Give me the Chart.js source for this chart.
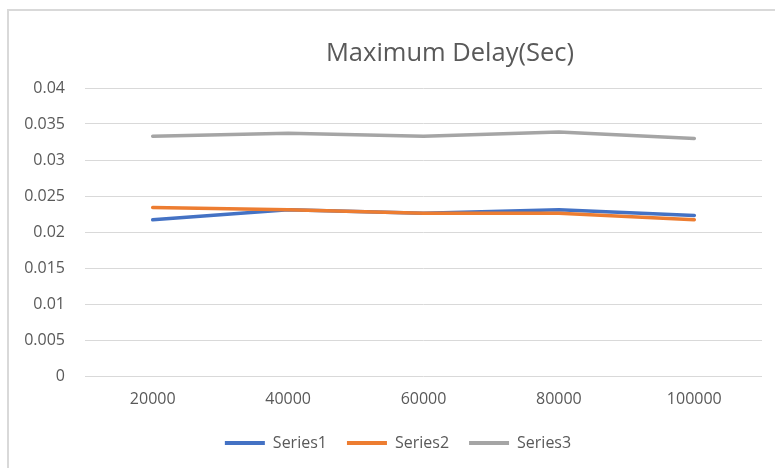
<!DOCTYPE html>
<html>
<head>
<meta charset="utf-8">
<script src="https://cdn.jsdelivr.net/npm/chart.js@4/dist/chart.umd.min.js"></script>
<style>
    body { margin: 0; background: #ffffff; overflow: hidden; }
    #wrap { position: relative; width: 775px; height: 468px; }
    #frame { position: absolute; left: 7px; top: 9px; width: 800px; height: 500px; border-left: 2px solid #d9d9d9; border-top: 2px solid #d9d9d9; }
    #myChart { position: absolute; left: 0; top: 0; }
</style>
</head>
<body>
<div id="wrap">
    <div id="frame"></div>
    <canvas id="myChart" width="775" height="468"></canvas>
</div>
<script>
//CHART DATA
////////////////////////////////////////////////////////////////////
var chartTitle = "Maximum Delay(Sec)";
var categories = ["20000", "40000", "60000", "80000", "100000"];
var seriesNames = ["Series1", "Series2", "Series3"];
var series1 = [0.0217, 0.0231, 0.0226, 0.0231, 0.0223];
var series2 = [0.0234, 0.0231, 0.0226, 0.0226, 0.0217];
var series3 = [0.0333, 0.0337, 0.0333, 0.0339, 0.0330];
var yTickLabels = ["0", "0.005", "0.01", "0.015", "0.02", "0.025", "0.03", "0.035", "0.04"];

var textColor = "#595959";
var fontName = "'Open Sans', sans-serif";

//nudges title and legend sideways after layout (excel centers them off the plot)
var shiftPlugin = {
    id: "shiftBoxes",
    afterLayout: function (chart) {
        if (chart.titleBlock) {
            chart.titleBlock.left += 69;
            chart.titleBlock.right += 69;
        }
        if (chart.legend) {
            chart.legend.left += 17;
            chart.legend.right += 17;
        }
    }
};

function makeSet(label, values, color, order) {
    return {
        label: label,
        data: values,
        borderColor: color,
        backgroundColor: color,
        borderWidth: 3.5,
        borderCapStyle: "round",
        pointRadius: 0,
        tension: 0,
        order: order
    };
}

function displayChart() {
    new Chart(document.getElementById("myChart"), {
        type: "line",
        data: {
            labels: categories,
            datasets: [
                makeSet(seriesNames[0], series1, "#4472C4", 3),
                makeSet(seriesNames[1], series2, "#ED7D31", 2),
                makeSet(seriesNames[2], series3, "#A5A5A5", 1)
            ]
        },
        options: {
            responsive: false,
            animation: false,
            layout: {
                padding: { left: 0, right: 13, top: 0, bottom: 7 }
            },
            scales: {
                x: {
                    offset: true,
                    grid: { display: false, drawTicks: false },
                    border: { display: false },
                    ticks: {
                        color: textColor,
                        padding: 14,
                        maxRotation: 0,
                        font: { family: fontName, size: 16 }
                    },
                    afterFit: function (scale) { scale.height = 39; }
                },
                y: {
                    min: 0,
                    max: 0.04,
                    grid: { color: "#d9d9d9", lineWidth: 1, drawTicks: false },
                    border: { display: false },
                    ticks: {
                        stepSize: 0.005,
                        color: textColor,
                        padding: 20,
                        font: { family: fontName, size: 16 },
                        callback: function (value, index) { return yTickLabels[index]; }
                    },
                    afterFit: function (scale) { scale.width = 85; }
                }
            },
            plugins: {
                title: {
                    display: true,
                    text: chartTitle,
                    color: textColor,
                    font: { family: fontName, size: 25.5, weight: "normal" },
                    padding: { top: 38.7, bottom: 18.7 }
                },
                legend: {
                    position: "bottom",
                    labels: {
                        color: textColor,
                        font: { family: fontName, size: 16 },
                        boxWidth: 40,
                        boxHeight: 4,
                        padding: 20,
                        sort: function (a, b) { return a.datasetIndex - b.datasetIndex; },
                        generateLabels: function (chart) {
                            var items = Chart.defaults.plugins.legend.labels.generateLabels(chart);
                            return items.map(function (item) {
                                item.lineWidth = 0;
                                item.fillStyle = item.strokeStyle;
                                return item;
                            });
                        }
                    }
                },
                tooltip: { enabled: false }
            }
        },
        plugins: [shiftPlugin]
    });
}

displayChart();
</script>
</body>
</html>
